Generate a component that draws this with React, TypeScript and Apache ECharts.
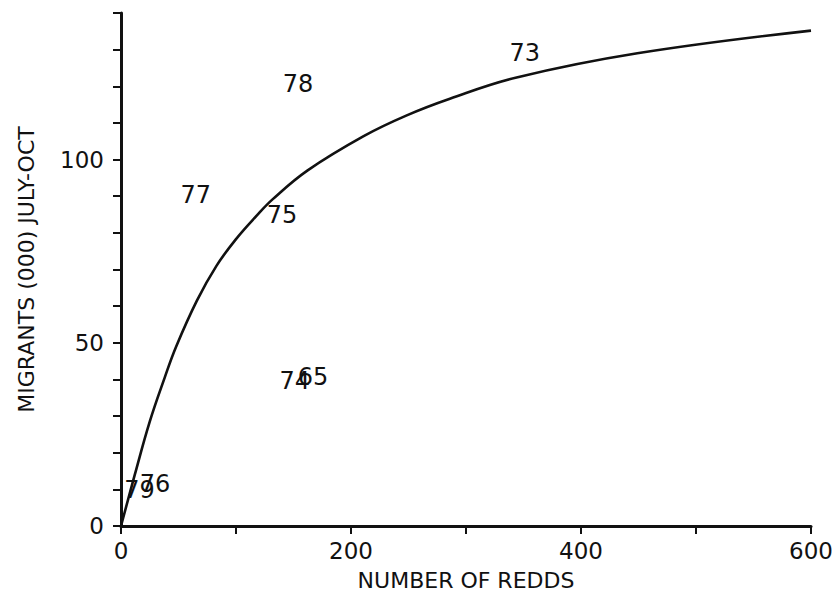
import React, { useEffect, useRef } from "react";
import * as echarts from "echarts";

const curveX = [0, 12, 25, 38, 48, 66, 83, 100, 118, 132, 162, 211, 248, 286, 344, 449, 600];
const curveY = [0, 14, 28.5, 40.5, 49, 61.5, 71, 78.3, 84.7, 89.2, 97.0, 106.4, 112, 116.6, 122.4, 129, 135.2];

const yearLabels = ["78", "77", "75", "73", "74", "65", "79", "76"];
const yearRedds = [154, 65, 140, 351, 151, 167, 16, 29.5];
const yearMigrants = [120.5, 90.2, 85, 129, 39.6, 40.7, 9.8, 11.5];

const xTickLabels = [0, 200, 400, 600];
const yTickLabels = [0, 50, 100];

const FONT = "DejaVu Sans";

export default function App() {
  const ref = useRef<HTMLDivElement>(null);
  useEffect(() => {
    if (!ref.current) return;
    const chart = echarts.init(ref.current, null, { renderer: "svg" });
    const axisCommon = {
      axisLine: { show: true, lineStyle: { color: "#111", width: 3 } },
      axisTick: { show: true, inside: false, length: 8, lineStyle: { color: "#111", width: 2 } },
      splitLine: { show: false },
      nameTextStyle: { color: "#111", fontFamily: FONT, fontSize: 22 },
    };
    chart.setOption({
      animation: false,
      backgroundColor: "#fff",
      grid: { left: 121, right: 28, top: 13, bottom: 78, containLabel: false },
      xAxis: {
        type: "value",
        min: 0,
        max: 600,
        interval: 100,
        name: "NUMBER OF REDDS",
        nameLocation: "middle",
        nameGap: 43,
        ...axisCommon,
        axisLabel: {
          color: "#111",
          fontFamily: FONT,
          fontSize: 23,
          margin: 13,
          formatter: (v: number) => (xTickLabels.includes(v) ? String(v) : ""),
        },
      },
      yAxis: {
        type: "value",
        min: 0,
        max: 140,
        interval: 10,
        name: "MIGRANTS (000) JULY-OCT",
        nameLocation: "middle",
        nameGap: 84,
        ...axisCommon,
        axisLabel: {
          color: "#111",
          fontFamily: FONT,
          fontSize: 23,
          margin: 17,
          formatter: (v: number) => (yTickLabels.includes(v) ? String(v) : ""),
        },
      },
      series: [
        {
          type: "line",
          data: curveX.map((x, i) => [x, curveY[i]]),
          smooth: 0.4,
          showSymbol: false,
          lineStyle: { color: "#111", width: 2.6 },
          z: 2,
        },
        {
          type: "scatter",
          symbolSize: 1,
          itemStyle: { color: "rgba(0,0,0,0)", opacity: 1 },
          data: yearLabels.map((n, i) => ({ value: [yearRedds[i], yearMigrants[i]], name: n })),
          label: {
            show: true,
            position: "inside",
            formatter: (p: any) => p.name,
            color: "#111",
            opacity: 1,
            textBorderWidth: 0,
            fontFamily: FONT,
            fontSize: 24,
          },
          labelLayout: { hideOverlap: false },
          z: 3,
        },
      ],
    });
    return () => chart.dispose();
  }, []);
  return (
    <div
      ref={ref}
      style={{ position: "fixed", left: 0, top: 0, width: 839, height: 604, background: "#fff" }}
    />
  );
}
